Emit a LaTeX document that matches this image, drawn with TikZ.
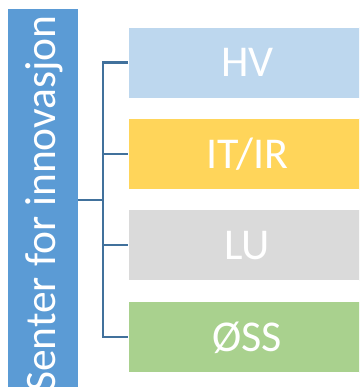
\documentclass[tikz,border=0pt]{standalone}
\usepackage{fontspec}
\setmainfont{Carlito}
\definecolor{mainblue}{HTML}{5B9BD5}
\definecolor{hvcol}{HTML}{BDD7EE}
\definecolor{itcol}{HTML}{FFD55A}
\definecolor{lucol}{HTML}{DADADA}
\definecolor{osscol}{HTML}{A9D18E}
\definecolor{linecol}{HTML}{41719C}
\begin{document}
\begin{tikzpicture}[x=1pt,y=-1pt,
  unitbox/.style={draw=white, line width=0.6pt, minimum width=238pt, minimum height=71pt,
    inner sep=0pt, text=white, font=\fontsize{44}{44}\selectfont,
    text height=28pt, text depth=0pt, anchor=west},
  conn/.style={draw=linecol, line width=2.6pt}]
\useasboundingbox (0,0) rectangle (359,387);
\clip (0,0) rectangle (359,387);
\fill[mainblue] (8,9) rectangle (78,400);
\node[rotate=90, anchor=base east, inner sep=0pt, text=white,
  font=\fontsize{43.5}{43.5}\selectfont] (main) at (55,15) {Senter for innovasjon};
\coordinate (src) at (78,200);
\coordinate (fork) at (103,200);
\node[unitbox, fill=hvcol]  (hv)  at (128,62.5) {HV};
\node[unitbox, fill=itcol]  (it)  at (128,154) {IT/IR};
\node[unitbox, fill=lucol]  (lu)  at (128,245) {LU};
\node[unitbox, fill=osscol] (oss) at (128,337) {ØSS};
\draw[conn] (src) -- (fork);
\draw[conn, line cap=rect] (fork |- hv.west) -- (fork |- oss.west);
\draw[conn] (fork |- hv.west) -- (hv.west);
\draw[conn] (fork |- it.west) -- (it.west);
\draw[conn] (fork |- lu.west) -- (lu.west);
\draw[conn] (fork |- oss.west) -- (oss.west);
\end{tikzpicture}
\end{document}
